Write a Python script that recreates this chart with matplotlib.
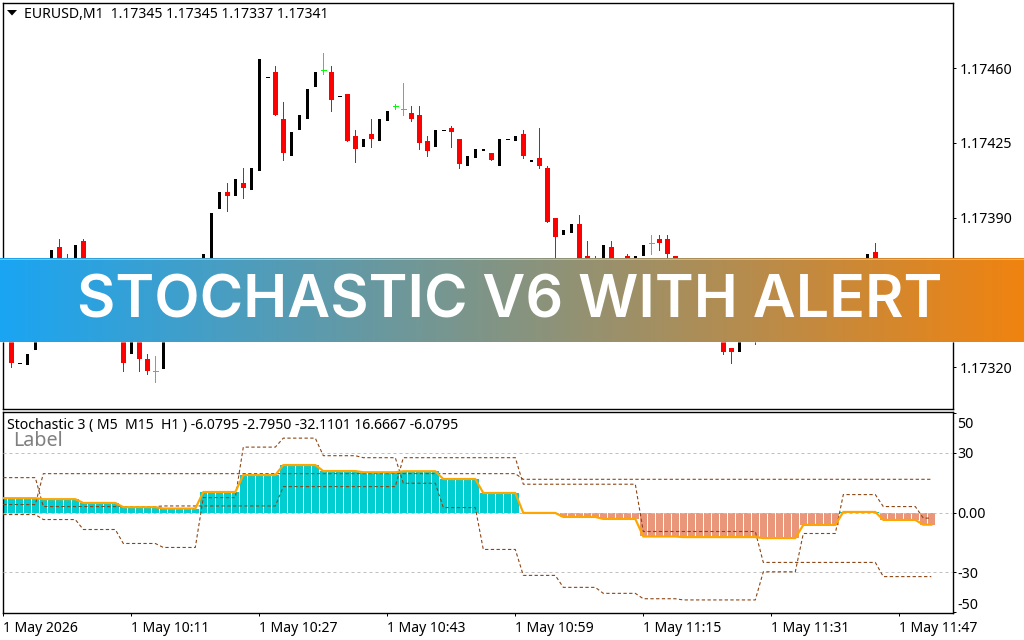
"""
stochastic_chart.py  -  EURUSD M1 candles with the Stochastic V6 panel below
"""
import numpy as np
import matplotlib
matplotlib.use("Agg")
import matplotlib.pyplot as plt
import matplotlib.transforms as mtransforms
from matplotlib.colors import LinearSegmentedColormap
from matplotlib.patches import Polygon

plt.rcParams["font.family"] = ["Noto Sans", "DejaVu Sans"]

# prices in points (1/100000), one row per five bars
opens = [
    117345, 117340, 117322, 117321, 117328, 117345, 117345, 117376, 117368, 117350,
    117379, 117340, 117355, 117350, 117338, 117350, 117326, 117345, 117324, 117318,
    117319, 117345, 117355, 117345, 117352, 117360, 117368, 117394, 117402, 117400,
    117406, 117403, 117412, 117456, 117458, 117436, 117419, 117431, 117436, 117451,
    117459, 117458, 117447, 117448, 117428, 117423, 117429, 117426, 117435, 117442,
    117441, 117439, 117438, 117426, 117423, 117431, 117432, 117427, 117414, 117418,
    117421, 117420, 117414, 117427, 117426, 117429, 117416, 117418, 117413, 117390,
    117382, 117383, 117387, 117372, 117368, 117358, 117376, 117358, 117372, 117362,
    117372, 117378, 117380, 117380, 117372, 117365, 117355, 117360, 117350, 117340,
    117340, 117329, 117327, 117338, 117345, 117338, 117350, 117344, 117352, 117358,
    117352, 117360, 117354, 117358, 117352, 117356, 117352, 117364, 117362, 117374,
    117360, 117354, 117358, 117352, 117350, 117348, 117345,
]
highs = [
    117352, 117342, 117322, 117326, 117338, 117347, 117375, 117380, 117373, 117377,
    117380, 117350, 117357, 117352, 117348, 117352, 117340, 117348, 117326, 117325,
    117345, 117352, 117357, 117355, 117362, 117373, 117392, 117402, 117406, 117408,
    117413, 117413, 117464, 117456, 117461, 117444, 117430, 117438, 117450, 117458,
    117467, 117461, 117447, 117448, 117431, 117427, 117436, 117436, 117440, 117443,
    117453, 117442, 117442, 117428, 117431, 117431, 117433, 117427, 117419, 117422,
    117422, 117420, 117427, 117427, 117428, 117431, 117417, 117432, 117414, 117390,
    117384, 117387, 117391, 117379, 117372, 117377, 117379, 117365, 117373, 117372,
    117377, 117382, 117382, 117382, 117372, 117366, 117362, 117361, 117352, 117348,
    117342, 117329, 117338, 117345, 117348, 117348, 117352, 117352, 117360, 117360,
    117362, 117362, 117360, 117360, 117358, 117358, 117362, 117365, 117373, 117378,
    117362, 117362, 117360, 117356, 117352, 117350, 117345,
]
lows = [
    117345, 117320, 117322, 117321, 117328, 117336, 117345, 117348, 117345, 117350,
    117340, 117340, 117343, 117338, 117338, 117318, 117326, 117318, 117317, 117313,
    117319, 117345, 117343, 117345, 117352, 117360, 117368, 117394, 117393, 117400,
    117399, 117403, 117412, 117456, 117438, 117417, 117419, 117431, 117436, 117451,
    117457, 117440, 117447, 117426, 117416, 117423, 117423, 117426, 117435, 117441,
    117438, 117435, 117422, 117419, 117423, 117431, 117423, 117413, 117414, 117418,
    117421, 117417, 117414, 117427, 117426, 117418, 117416, 117413, 117388, 117365,
    117382, 117383, 117350, 117358, 117360, 117358, 117355, 117358, 117358, 117362,
    117372, 117373, 117375, 117368, 117363, 117356, 117355, 117348, 117340, 117340,
    117326, 117322, 117327, 117338, 117331, 117338, 117342, 117344, 117352, 117350,
    117352, 117352, 117354, 117350, 117352, 117350, 117352, 117358, 117362, 117358,
    117352, 117354, 117350, 117348, 117344, 117344, 117337,
]
closes = [
    117352, 117322, 117322, 117326, 117338, 117338, 117375, 117350, 117350, 117377,
    117345, 117350, 117345, 117340, 117348, 117322, 117340, 117324, 117318, 117318,
    117345, 117352, 117345, 117355, 117362, 117373, 117392, 117402, 117400, 117408,
    117404, 117413, 117464, 117456, 117438, 117420, 117430, 117438, 117450, 117458,
    117459, 117445, 117447, 117426, 117422, 117427, 117427, 117436, 117440, 117442,
    117441, 117436, 117425, 117421, 117431, 117431, 117430, 117415, 117419, 117422,
    117422, 117417, 117427, 117427, 117428, 117419, 117417, 117414, 117388, 117381,
    117384, 117387, 117355, 117360, 117362, 117377, 117358, 117365, 117360, 117372,
    117377, 117378, 117378, 117373, 117365, 117358, 117362, 117350, 117342, 117348,
    117327, 117327, 117338, 117345, 117338, 117348, 117344, 117352, 117360, 117352,
    117362, 117354, 117360, 117352, 117358, 117352, 117362, 117360, 117373, 117360,
    117354, 117362, 117352, 117350, 117346, 117345, 117341,
]

# stochastic panel, one value per bar
stoch_main = [
    7.2, 7.2, 7.2, 7.2, 7.2, 6.7, 6.7, 6.7, 6.7, 6.7,
    4.8, 4.8, 4.8, 4.8, 4.8, 2.7, 2.7, 2.7, 2.7, 2.7,
    2.0, 2.0, 2.0, 2.0, 2.0, 10.3, 10.3, 10.3, 10.3, 10.3,
    18.8, 18.8, 18.8, 18.8, 18.8, 23.8, 23.8, 23.8, 23.8, 23.8,
    20.8, 20.8, 20.8, 20.8, 20.8, 20.2, 20.2, 20.2, 20.2, 20.2,
    20.7, 20.7, 20.7, 20.7, 20.7, 16.8, 16.8, 16.8, 16.8, 16.8,
    9.8, 9.8, 9.8, 9.8, 9.8, -0.2, -0.2, -0.2, -0.2, -0.2,
    -2.2, -2.2, -2.2, -2.2, -2.2, -3.2, -3.2, -3.2, -3.2, -3.2,
    -12.0, -12.0, -12.0, -12.0, -12.0, -12.3, -12.3, -12.3, -12.3, -12.3,
    -12.3, -12.3, -12.3, -12.3, -12.3, -12.8, -12.8, -12.8, -12.8, -12.8,
    -6.2, -6.2, -6.2, -6.2, -6.2, 0.3, 0.3, 0.3, 0.3, 0.3,
    -3.7, -3.7, -3.7, -3.7, -3.7, -6.0795, -6.0795,
]
stoch_m5 = [
    -1.0, -1.0, -1.0, -1.0, -1.0, -3.5, -3.5, -3.5, -3.5, -3.5,
    -8.5, -8.5, -8.5, -8.5, -8.5, -15.5, -15.5, -15.5, -15.5, -15.5,
    -17.5, -17.5, -17.5, -17.5, -17.5, 7.5, 7.5, 7.5, 7.5, 7.5,
    32.8, 32.8, 32.8, 32.8, 32.8, 37.3, 37.3, 37.3, 37.3, 37.3,
    28.5, 28.5, 28.5, 28.5, 28.5, 27.5, 27.5, 27.5, 27.5, 27.5,
    14.7, 14.7, 14.7, 14.7, 14.7, 2.5, 2.5, 2.5, 2.5, 2.5,
    -18.5, -18.5, -18.5, -18.5, -18.5, -31.5, -31.5, -31.5, -31.5, -31.5,
    -37.5, -37.5, -37.5, -37.5, -37.5, -40.5, -40.5, -40.5, -40.5, -40.5,
    -43.2, -43.2, -43.2, -43.2, -43.2, -43.8, -43.8, -43.8, -43.8, -43.8,
    -43.8, -43.8, -43.8, -43.8, -43.8, -29.7, -29.7, -29.7, -29.7, -29.7,
    -10.5, -10.5, -10.5, -10.5, -10.5, 9.0, 9.0, 9.0, 9.0, 9.0,
    3.0, 3.0, 3.0, 3.0, 3.0, -2.795, -2.795,
]
stoch_m15 = [
    17.5, 17.5, 17.5, 17.5, 17.5, 3.0, 3.0, 3.0, 3.0, 3.0,
    3.0, 3.0, 3.0, 3.0, 3.0, 3.0, 3.0, 3.0, 3.0, 3.0,
    3.3, 3.3, 3.3, 3.3, 3.3, 3.3, 3.3, 3.3, 3.3, 3.3,
    3.3, 3.3, 3.3, 3.3, 3.3, 13.0, 13.0, 13.0, 13.0, 13.0,
    13.0, 13.0, 13.0, 13.0, 13.0, 13.0, 13.0, 13.0, 13.0, 13.0,
    27.5, 27.5, 27.5, 27.5, 27.5, 27.5, 27.5, 27.5, 27.5, 27.5,
    27.5, 27.5, 27.5, 27.5, 27.5, 14.2, 14.2, 14.2, 14.2, 14.2,
    14.2, 14.2, 14.2, 14.2, 14.2, 14.2, 14.2, 14.2, 14.2, 14.2,
    -9.5, -9.5, -9.5, -9.5, -9.5, -9.5, -9.5, -9.5, -9.5, -9.5,
    -9.5, -9.5, -9.5, -9.5, -9.5, -25.0, -25.0, -25.0, -25.0, -25.0,
    -25.0, -25.0, -25.0, -25.0, -25.0, -25.0, -25.0, -25.0, -25.0, -25.0,
    -32.1101, -32.1101, -32.1101, -32.1101, -32.1101, -32.1101, -32.1101,
]
stoch_h1 = [
    4.0, 4.0, 4.0, 4.0, 4.0, 19.5, 19.5, 19.5, 19.5, 19.5,
    19.5, 19.5, 19.5, 19.5, 19.5, 19.5, 19.5, 19.5, 19.5, 19.5,
    19.5, 19.5, 19.5, 19.5, 19.5, 19.5, 19.5, 19.5, 19.5, 19.5,
    19.5, 19.5, 19.5, 19.5, 19.5, 19.5, 19.5, 19.5, 19.5, 19.5,
    19.5, 19.5, 19.5, 19.5, 19.5, 19.5, 19.5, 19.5, 19.5, 19.5,
    19.5, 19.5, 19.5, 19.5, 19.5, 19.5, 19.5, 19.5, 19.5, 19.5,
    19.5, 19.5, 19.5, 19.5, 19.5, 16.6667, 16.6667, 16.6667, 16.6667, 16.6667,
    16.6667, 16.6667, 16.6667, 16.6667, 16.6667, 16.6667, 16.6667, 16.6667, 16.6667, 16.6667,
    16.6667, 16.6667, 16.6667, 16.6667, 16.6667, 16.6667, 16.6667, 16.6667, 16.6667, 16.6667,
    16.6667, 16.6667, 16.6667, 16.6667, 16.6667, 16.6667, 16.6667, 16.6667, 16.6667, 16.6667,
    16.6667, 16.6667, 16.6667, 16.6667, 16.6667, 16.6667, 16.6667, 16.6667, 16.6667, 16.6667,
    16.6667, 16.6667, 16.6667, 16.6667, 16.6667, 16.6667, 16.6667,
]

price_ticks = [117320, 117355, 117390, 117425, 117460]
stoch_ticks = [-50, -30, 0, 30, 50]
stoch_tick_labels = ["-50", "-30", "0.00", "30", "50"]
stoch_levels = [-30, 0, 30]
time_ticks = [0, 16, 32, 48, 64, 80, 96, 112]
time_labels = ["1 May 2026", "1 May 10:11", "1 May 10:27", "1 May 10:43",
               "1 May 10:59", "1 May 11:15", "1 May 11:31", "1 May 11:47"]

W, H = 1024, 640
PX = 0.72  # one pixel in points at dpi 100
X_LEFT, X_RIGHT = 2.5, 952.5
TEXT_SIZE = 10.1


def pixel_axes(fig, top, bottom):
    ax = fig.add_axes([X_LEFT / W, 1 - bottom / H, (X_RIGHT - X_LEFT) / W, (bottom - top) / H])
    # bar i is centred on pixel 3.3 + 8 i
    ax.set_xlim((X_LEFT - 3.3) / 8, (X_RIGHT - 3.3) / 8)
    for spine in ax.spines.values():
        spine.set_linewidth(1.0)
    return ax


def draw_candles(ax):
    x = np.arange(len(opens))
    o = np.array(opens) / 1e5
    h = np.array(highs) / 1e5
    l = np.array(lows) / 1e5
    c = np.array(closes) / 1e5
    up = c > o
    down = c < o
    flat = c == o
    cross = flat & (h > l)
    dash = flat & (h == l)

    ax.bar(x[up], (c - o)[up], bottom=o[up], width=3 / 8, color="black", linewidth=0, zorder=3)
    ax.vlines(x[down], l[down], h[down], color="#FF0000", linewidth=PX, antialiased=False, zorder=2)
    ax.bar(x[down], (o - c)[down], bottom=c[down], width=5 / 8, color="#FF0000", linewidth=0, zorder=3)
    ax.hlines(c[dash], x[dash] - 1.5 / 8, x[dash] + 1.5 / 8, color="black", linewidth=PX, antialiased=False, zorder=3)
    ax.vlines(x[cross], l[cross], h[cross], color="#00FF00", linewidth=PX, antialiased=False, zorder=3)
    ax.hlines(c[cross], x[cross] - 2.5 / 8, x[cross] + 2.5 / 8, color="#00FF00", linewidth=PX, antialiased=False, zorder=3)

    # 0.468 points per pixel, 1.17460 sits on pixel row 68
    ax.set_ylim((117460 - (408.5 - 68) * 0.468) / 1e5, (117460 + (68 - 2.5) * 0.468) / 1e5)
    ax.set_xticks([])
    ax.yaxis.tick_right()
    ax.set_yticks([p / 1e5 for p in price_ticks])
    ax.set_yticklabels([f"{p / 1e5:.5f}" for p in price_ticks])
    ax.tick_params(axis="y", length=3 * PX, width=PX, pad=4.5 * PX, labelsize=TEXT_SIZE + 0.1)


def draw_stochastic(ax):
    x = np.arange(len(stoch_main))
    main = np.array(stoch_main)
    ax.bar(x, main, width=7 / 8, color=np.where(main >= 0, "#00CED1", "#E9967A"), linewidth=0, zorder=2)
    for level in stoch_levels:
        ax.axhline(level, color="#C0C0C0", linewidth=PX, linestyle=(0, (3, 3)), zorder=3)
    for series in (stoch_m5, stoch_m15, stoch_h1):
        ax.plot(x, series, color="#8B4513", linewidth=PX * 1.1, linestyle=(0, (3, 2.2)), zorder=4)
    ax.plot(x, main, color="#FFA500", linewidth=2.2 * PX, zorder=5)

    ax.set_ylim((512.3 - 613) / 2, (512.3 - 411) / 2)
    ax.yaxis.tick_right()
    ax.set_yticks(stoch_ticks)
    ax.set_yticklabels(stoch_tick_labels)
    ax.tick_params(axis="y", length=3 * PX, width=PX, pad=2 * PX, labelsize=TEXT_SIZE + 0.1)
    ax.set_xticks(time_ticks)
    ax.set_xticklabels(time_labels, ha="left")
    ax.tick_params(axis="x", length=3 * PX, width=PX, pad=4.5 * PX, labelsize=TEXT_SIZE)

    # the two outer labels are pushed inside the panel
    fig = ax.figure
    labels = ax.get_yticklabels()
    labels[0].set_transform(labels[0].get_transform()
                            + mtransforms.ScaledTranslation(0, 9 / 100, fig.dpi_scale_trans))
    labels[-1].set_transform(labels[-1].get_transform()
                             + mtransforms.ScaledTranslation(0, -10 / 100, fig.dpi_scale_trans))


def draw_overlay(fig):
    ov = fig.add_axes([0, 0, 1, 1], zorder=10)
    ov.patch.set_alpha(0)
    ov.axis("off")

    ov.add_patch(Polygon([(7, 10), (17, 10), (12, 15.5)], closed=True, color="black", linewidth=0))
    ov.text(24, 15, "EURUSD,M1  1.17345 1.17345 1.17337 1.17341", fontsize=TEXT_SIZE, va="center", color="black")
    ov.text(7, 425.5, "Stochastic 3 ( M5  M15  H1 ) -6.0795 -2.7950 -32.1101 16.6667 -6.0795",
            fontsize=TEXT_SIZE, va="center", color="black")
    ov.text(13, 441, "Label", fontsize=14.2, va="center", color="#808080")

    cmap = LinearSegmentedColormap.from_list("banner", ["#1AA5F3", "#F08310"])
    ov.imshow(np.linspace(0, 1, 512)[None, :], extent=(0, W, 342, 258), cmap=cmap, aspect="auto",
              interpolation="bilinear", zorder=5)
    ov.hlines([258.5, 341.5], 0, W, color="white", alpha=0.4, linewidth=PX, antialiased=False, zorder=6)
    ov.text(509.5, 318, "STOCHASTIC V6 WITH ALERT", fontsize=42.5, fontweight="semibold", family="Inter",
            color="white", ha="center", va="baseline", zorder=7)

    ov.set_xlim(0, W)
    ov.set_ylim(H, 0)


def main():
    fig = plt.figure(figsize=(W / 100, H / 100), dpi=100, facecolor="white")
    ax_price = pixel_axes(fig, 2.5, 408.5)
    ax_stoch = pixel_axes(fig, 411.5, 613)
    draw_candles(ax_price)
    draw_stochastic(ax_stoch)
    draw_overlay(fig)
    fig.savefig("out.png", dpi=100)
    plt.close(fig)


if __name__ == "__main__":
    main()
